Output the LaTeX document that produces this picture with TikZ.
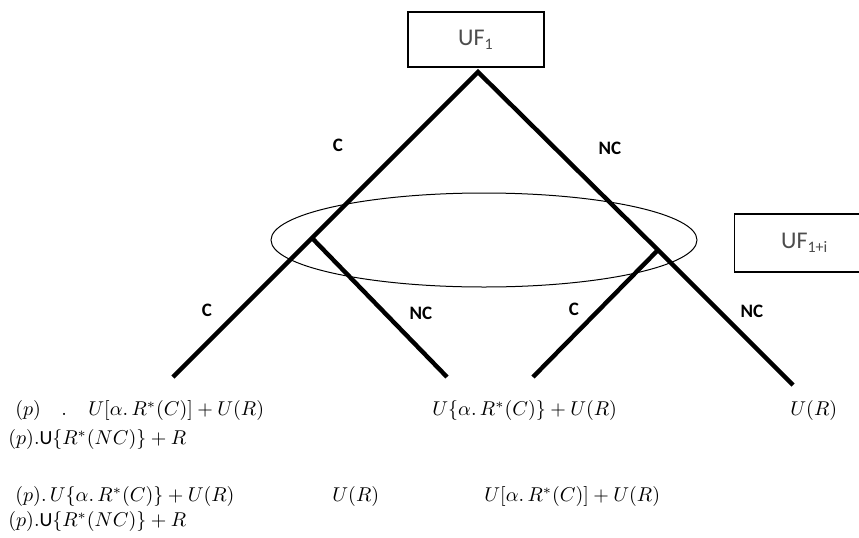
\documentclass[tikz,border=0pt]{standalone}
\usepackage{fontspec}
\setsansfont{Carlito}
\usepackage{tikz}
\usetikzlibrary{positioning}

\begin{document}
\begin{tikzpicture}[x=0.5pt, y=-0.5pt,
  ufbox/.style={draw, line width=0.7pt, minimum width=68pt, minimum height=27.5pt, font=\sffamily\fontsize{12}{14}\selectfont, text=black!70},
  branch/.style={line width=2.2pt},
  arm/.style={font=\sffamily\bfseries\fontsize{9.5}{11}\selectfont},
  payoff/.style={anchor=west, inner sep=0pt, text height=7pt, text depth=2.5pt, font=\fontsize{10}{12}\selectfont},
]
  \clip (0,0) rectangle (859,537);

  % Boxes
  \node[ufbox] (uf1) at (476,39.5) {UF\textsubscript{1}};
  \node[ufbox, minimum width=70pt, minimum height=29pt, anchor=west] (ufi) at (734,243) {UF\textsubscript{1+i}\hspace{20pt}};

  % Tree
  \coordinate (apex) at (478,72);
  \coordinate (lc) at (312,238);
  \coordinate (rc) at (658,250);
  \coordinate (ll) at (173,377);
  \coordinate (lr) at (447,377);
  \coordinate (rl) at (533,377);
  \coordinate (rr) at (793,385);

  \draw[branch] (ll) -- (lc) -- (apex) -- (rc) -- (rr);
  \draw[branch] (lc) -- (lr);
  \draw[branch] (rc) -- (rl);

  % Information set
  \draw[line width=0.5pt] (484,240) ellipse [x radius=213, y radius=47];

  % Branch labels
  \node[arm] (c1) at (338,145) {C};
  \node[arm] (nc1) at (610,148) {NC};
  \node[arm] (c2) at (207,310) {C};
  \node[arm] (nc2) at (421,313) {NC};
  \node[arm] (c3) at (574,309) {C};
  \node[arm] (nc3) at (752,311) {NC};

  % Payoffs
  \node[payoff] (p1) at (15,411) {$(p)$};
  \node[payoff] (dot1) at (61,411) {.};
  \node[payoff] (u1) at (88,411) {$U[\alpha.\,R^{*}(C)]+U(R)$};
  \node[payoff] (u2) at (432,411) {$U\{\alpha.\,R^{*}(C)\}+U(R)$};
  \node[payoff] (u3) at (790,411) {$U(R)$};
  \node[payoff] (p2) at (8,440) {$(p)$.\textsf{U}$\{R^{*}(NC)\}+R$};

  \node[payoff] (p3) at (15,497) {$(p).\,U\{\alpha.\,R^{*}(C)\}+U(R)$};
  \node[payoff] (u4) at (332,497) {$U(R)$};
  \node[payoff] (u5) at (484,497) {$U[\alpha.\,R^{*}(C)]+U(R)$};
  \node[payoff] (p4) at (8,522) {$(p)$.\textsf{U}$\{R^{*}(NC)\}+R$};

\end{tikzpicture}
\end{document}
